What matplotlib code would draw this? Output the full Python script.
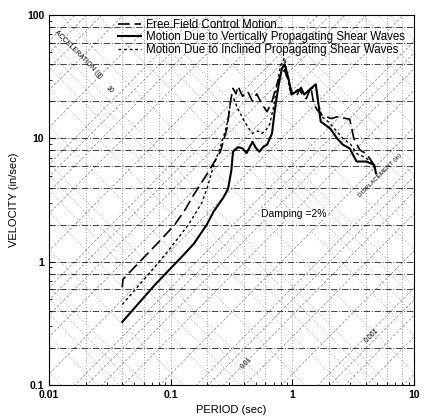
import matplotlib.pyplot as plt
import numpy as np

plt.rcParams['font.family'] = ['Liberation Sans', 'DejaVu Sans']

# Free field control motion (dashed)
period_free = [0.04, 0.0405, 0.06, 0.08, 0.108, 0.13, 0.155, 0.2, 0.256, 0.29, 0.31,
               0.325, 0.344, 0.356, 0.39, 0.43, 0.47, 0.51, 0.56, 0.62, 0.68, 0.74,
               0.8, 0.86, 0.92, 1.0, 1.08, 1.15, 1.22, 1.3, 1.42, 1.5, 1.6, 1.75,
               1.9, 2.1, 2.33, 2.6, 2.96, 3.2, 3.57, 4.05, 4.5, 4.87]
vel_free = [0.62, 0.72, 1.08, 1.45, 2.0, 2.6, 3.5, 5.2, 7.8, 12, 20,
            25.5, 23, 26.5, 22, 24, 20, 23, 19, 16.5, 20, 27,
            33, 36, 30, 23, 22, 25, 22, 21, 26, 19, 17, 15.5,
            15, 14.5, 15, 14.7, 14.3, 10, 8.1, 7.5, 6.5, 5.7]

# Motion due to vertically propagating shear waves (solid)
period_vert = [0.04, 0.0742, 0.129, 0.155, 0.198, 0.225, 0.27, 0.296, 0.315, 0.325,
               0.337, 0.36, 0.39, 0.42, 0.47, 0.5, 0.535, 0.58, 0.62, 0.68, 0.72,
               0.77, 0.82, 0.863, 0.929, 0.982, 1.077, 1.18, 1.25, 1.42, 1.556,
               1.64, 1.71, 2.05, 2.33, 2.6, 2.96, 3.37, 4.05, 4.7, 4.87]
vel_vert = [0.325, 0.65, 1.15, 1.4, 2.0, 2.55, 3.3, 3.9, 5.5, 7.8,
            8.1, 8.5, 8.3, 7.6, 9.4, 8.4, 7.8, 8.6, 8.9, 11, 17.5,
            27, 37, 40, 30.6, 22.7, 24, 25.5, 22.7, 25.5, 27.5,
            18.8, 13.7, 12, 10, 8.9, 8.3, 6.5, 6.5, 6.1, 5.2]

# Motion due to inclined propagating shear waves (dotted)
period_incl = [0.04, 0.07, 0.1, 0.14, 0.18, 0.2, 0.225, 0.25, 0.28, 0.3, 0.31,
               0.33, 0.36, 0.4, 0.44, 0.47, 0.52, 0.56, 0.6, 0.65, 0.7, 0.75,
               0.8, 0.86, 0.9, 0.95, 1.0, 1.08, 1.18, 1.25, 1.42, 1.56, 1.64,
               1.75, 2.0, 2.3, 2.6, 3.0, 3.4, 4.0, 4.5, 4.87]
vel_incl = [0.45, 0.85, 1.3, 2.0, 3.0, 4.0, 6.0, 8.0, 11.4, 15, 20,
            21, 17, 14, 12, 11, 11.5, 11, 11.5, 13, 18, 28,
            39, 45, 34, 25, 23, 24.5, 26, 23, 25, 27, 19,
            15, 13.5, 11.5, 10, 9, 7.5, 7, 6.3, 5.5]

x_ticks = [0.01, 0.1, 1, 10]
x_labels = ['0.01', '0.1', '1', '10']
y_ticks = [0.1, 1, 10, 100]
y_labels = ['0.1', '1', '10', '100']
grid_mult = [1, 2, 4, 6, 8]

G_IN = 386.09  # in/sec^2

fig = plt.figure(figsize=(4.24, 4.16), dpi=100)
ax = fig.add_axes([0.1156, 0.0745, 0.861, 0.889])
ax.set_xscale('log')
ax.set_yscale('log')

# tripartite grid
for k in range(-3, 2):
    for m in grid_mult:
        v = m * 10.0 ** k
        if 0.1 <= v <= 100:
            ax.axhline(v, color='k', lw=0.65, ls=(0, (7, 2, 1, 2)), alpha=0.8, zorder=1)
        if 0.01 <= v <= 10:
            ax.axvline(v, color='k', lw=0.5, ls=(0, (1, 3)), alpha=0.7, zorder=1)

tt = np.array([0.001, 100.0])
for k in range(-5, 3):
    for m in grid_mult:
        a = m * 10.0 ** k
        ax.plot(tt, a * G_IN * tt / (2 * np.pi), color='k', lw=0.45,
                ls=(0, (4, 3)), alpha=0.55, zorder=1)
for k in range(-5, 4):
    for m in grid_mult:
        d = m * 10.0 ** k
        ax.plot(tt, 2 * np.pi * d / tt, color='k', lw=0.45,
                ls=(0, (1, 2.5)), alpha=0.55, zorder=1)

ax.set_xlim(0.01, 10)
ax.set_ylim(0.1, 100)

# spectra
ax.plot(period_free, vel_free, color='k', lw=1.2, ls=(0, (7, 3)), zorder=3,
        label='Free Field Control Motion')
ax.plot(period_vert, vel_vert, color='k', lw=1.5, zorder=4,
        label='Motion Due to Vertically Propagating Shear Waves')
ax.plot(period_incl, vel_incl, color='k', lw=1.0, ls=(0, (2, 2)), zorder=3,
        label='Motion Due to Inclined Propagating Shear Waves')

leg = ax.legend(loc='upper left', bbox_to_anchor=(0.18, 1.0), frameon=False,
                fontsize=8.3, handlelength=2.0, handletextpad=0.4,
                labelspacing=0.05, borderaxespad=0.1, borderpad=0.2)
leg.set_zorder(6)

# grid annotations
ax.text(0.0175, 48, 'ACCELERATION (g)', fontsize=5, rotation=-45,
        ha='center', va='center')
ax.text(0.031, 25, '10', fontsize=5, rotation=-45, ha='center', va='center')
ax.text(0.42, 0.15, '0.01', fontsize=5, rotation=45, ha='center', va='center')
ax.text(4.5, 0.25, '0.001', fontsize=5, rotation=45, ha='center', va='center')
ax.text(5.3, 5.0, 'DISPLACEMENT (in)', fontsize=4.5, rotation=45,
        ha='center', va='center')
ax.text(0.67, 0.462, 'Damping =2%', fontsize=7.5, ha='center', va='center',
        transform=ax.transAxes,
        bbox=dict(facecolor='white', edgecolor='none', pad=0.5), zorder=5)

ax.set_xticks(x_ticks)
ax.set_xticklabels(x_labels)
ax.set_yticks(y_ticks)
ax.set_yticklabels(y_labels)
ax.tick_params(which='both', direction='in', labelsize=7.5, length=4)
ax.tick_params(which='minor', length=2)
for lab in ax.get_xticklabels() + ax.get_yticklabels():
    lab.set_fontweight('bold')

ax.set_xlabel('PERIOD (sec)', fontsize=8, labelpad=4)
ax.set_ylabel('VELOCITY (in/sec)', fontsize=8, labelpad=6)

fig.savefig('out.png', dpi=100)
